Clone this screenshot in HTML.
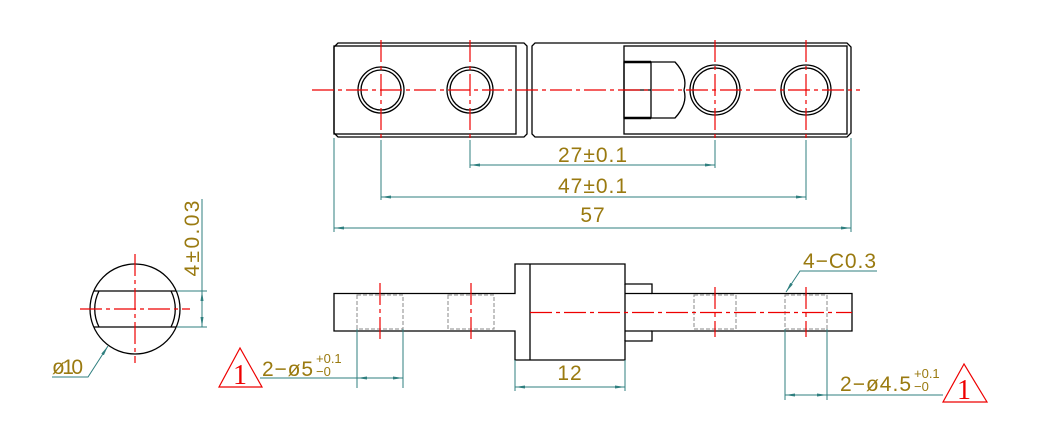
<!DOCTYPE html>
<html><head><meta charset="utf-8"><style>
html,body{margin:0;padding:0;background:#fff;}
svg{display:block;}
text{font-family:"Liberation Sans",sans-serif;fill:#9a7a10;}
</style></head><body>
<svg width="1059" height="443" viewBox="0 0 1059 443" xmlns="http://www.w3.org/2000/svg">
<defs>
<marker id="a" viewBox="0 0 10 4" refX="10" refY="2" markerWidth="10" markerHeight="4" orient="auto" markerUnits="userSpaceOnUse"><path d="M0,0.5 L10,2 L0,3.5Z" fill="#2f7f7f"/></marker>
<marker id="b" viewBox="0 0 10 4" refX="0" refY="2" markerWidth="10" markerHeight="4" orient="auto" markerUnits="userSpaceOnUse"><path d="M10,0.5 L0,2 L10,3.5Z" fill="#2f7f7f"/></marker>
</defs>
<g fill="none" stroke="#000" stroke-width="1.3">
<path d="M338,43 L524,43 L527,46 L527,134 L524,137 L338,137 L334,133 L334,47 Z"/>
<rect x="334" y="46" width="182" height="88"/>
<path d="M535,43 L847,43 L851,47 L851,133 L847,137 L535,137 L532,134 L532,46 Z"/>
<rect x="624" y="46" width="223" height="88"/>
<rect x="624" y="62" width="27" height="56"/>
<line x1="624" y1="62" x2="651" y2="62" stroke-width="2.5"/>
<line x1="624" y1="118" x2="651" y2="118" stroke-width="2.5"/>
<line x1="624" y1="90" x2="651" y2="90"/>
<path d="M651,62 L675,62 Q688,76 684,90 Q688,104 675,118 L651,118"/>
<circle cx="381" cy="90" r="23"/><circle cx="381" cy="90" r="20"/>
<circle cx="470" cy="90" r="23"/><circle cx="470" cy="90" r="20"/>
<circle cx="715" cy="90" r="25"/><circle cx="715" cy="90" r="22"/>
<circle cx="806" cy="90" r="25"/><circle cx="806" cy="90" r="22"/>
<path d="M334,293.5 L515,293.5 L515,264 L625,264 L625,284 L652,284 L652,293.5 L852,293.5 L852,331 L652,331 L652,341 L625,341 L625,360 L515,360 L515,331 L334,331 Z"/>
<line x1="530" y1="264" x2="530" y2="360"/>
<line x1="625" y1="284" x2="625" y2="341"/>
<line x1="625" y1="293.5" x2="652" y2="293.5"/>
<line x1="625" y1="331" x2="652" y2="331"/>
<circle cx="135" cy="309" r="45"/>
<path d="M99,291 A40,40 0 0 0 99,327 M171,291 A40,40 0 0 1 171,327" />
<line x1="94" y1="291" x2="176" y2="291"/><line x1="94" y1="327" x2="176" y2="327"/>
</g>
<g fill="none" stroke="#888" stroke-width="1" stroke-dasharray="4,2">
<rect x="357" y="295" width="46" height="34"/><rect x="448" y="295" width="46" height="34"/>
<rect x="694" y="295" width="42" height="34"/><rect x="785" y="295" width="42" height="34"/>
</g>
<g stroke="#e00" stroke-width="1.2" fill="none" stroke-dasharray="22,4,4,4">
<line x1="312" y1="90" x2="860" y2="90"/>
<line x1="381" y1="40" x2="381" y2="140"/><line x1="470" y1="40" x2="470" y2="140"/>
<line x1="715" y1="40" x2="715" y2="140"/><line x1="806" y1="40" x2="806" y2="140"/>
<line x1="530" y1="312.5" x2="852" y2="312.5"/>
<line x1="380" y1="283" x2="380" y2="340"/><line x1="471" y1="283" x2="471" y2="340"/>
<line x1="715" y1="287" x2="715" y2="337"/><line x1="806" y1="287" x2="806" y2="337"/>
<line x1="80" y1="309" x2="190" y2="309"/>
<line x1="135" y1="254" x2="135" y2="363"/>
</g>
<g stroke="#2f7f7f" stroke-width="1" fill="none">
<line x1="334" y1="138" x2="334" y2="232"/><line x1="851" y1="138" x2="851" y2="232"/>
<line x1="381" y1="140" x2="381" y2="200"/><line x1="806" y1="140" x2="806" y2="200"/>
<line x1="470" y1="140" x2="470" y2="168"/><line x1="715" y1="140" x2="715" y2="168"/>
<line x1="470" y1="165" x2="715" y2="165" marker-start="url(#b)" marker-end="url(#a)"/>
<line x1="381" y1="197" x2="806" y2="197" marker-start="url(#b)" marker-end="url(#a)"/>
<line x1="334" y1="228" x2="851" y2="228" marker-start="url(#b)" marker-end="url(#a)"/>
<line x1="357" y1="329" x2="357" y2="388"/><line x1="403" y1="329" x2="403" y2="388"/>
<line x1="357" y1="378" x2="403" y2="378" marker-start="url(#b)" marker-end="url(#a)"/>
<line x1="260" y1="378" x2="357" y2="378"/>
<line x1="515" y1="360" x2="515" y2="391"/><line x1="625" y1="360" x2="625" y2="391"/>
<line x1="515" y1="387" x2="625" y2="387" marker-start="url(#b)" marker-end="url(#a)"/>
<line x1="785" y1="329" x2="785" y2="400"/><line x1="827" y1="329" x2="827" y2="400"/>
<line x1="785" y1="395" x2="827" y2="395" marker-start="url(#b)" marker-end="url(#a)"/>
<line x1="827" y1="395" x2="943" y2="395"/>
<path d="M877,271 L800,271 L786,292" marker-end="url(#a)"/>
<line x1="177" y1="291" x2="207" y2="291"/><line x1="177" y1="327" x2="207" y2="327"/>
<line x1="202" y1="199" x2="202" y2="291"/>
<line x1="202" y1="291" x2="202" y2="327" marker-start="url(#b)" marker-end="url(#a)"/>
<path d="M52,377 L88,377 L108,346" marker-end="url(#a)"/>
</g>
<g stroke="#e00" stroke-width="1.2" fill="none">
<path d="M240,348 L219,387 L262,387 Z"/>
<path d="M964,364 L943,402 L987,402 Z"/>
</g>
<text x="240" y="384" font-size="28" text-anchor="middle" style="fill:#e00;font-family:'Liberation Serif',serif">1</text>
<text x="964" y="399" font-size="28" text-anchor="middle" style="fill:#e00;font-family:'Liberation Serif',serif">1</text>
<g font-size="21" letter-spacing="1">
<text x="593" y="162" text-anchor="middle" textLength="70">27±0.1</text>
<text x="593" y="193" text-anchor="middle" textLength="70">47±0.1</text>
<text x="593" y="222" text-anchor="middle">57</text>
<text x="570" y="380" text-anchor="middle">12</text>
<text x="803" y="268" textLength="74">4−C0.3</text>
<text x="262" y="376" textLength="52">2−ø5</text>
<text x="840" y="391" textLength="72">2−ø4.5</text>
<text x="52" y="374" textLength="32">ø10</text>
<text transform="translate(199,238) rotate(-90)" text-anchor="middle" textLength="77">4±0.03</text>
</g>
<g font-size="13">
<text x="316" y="363">+0.1</text><text x="316" y="376">−0</text>
<text x="914" y="378">+0.1</text><text x="914" y="391">−0</text>
</g>
</svg>
</body></html>
